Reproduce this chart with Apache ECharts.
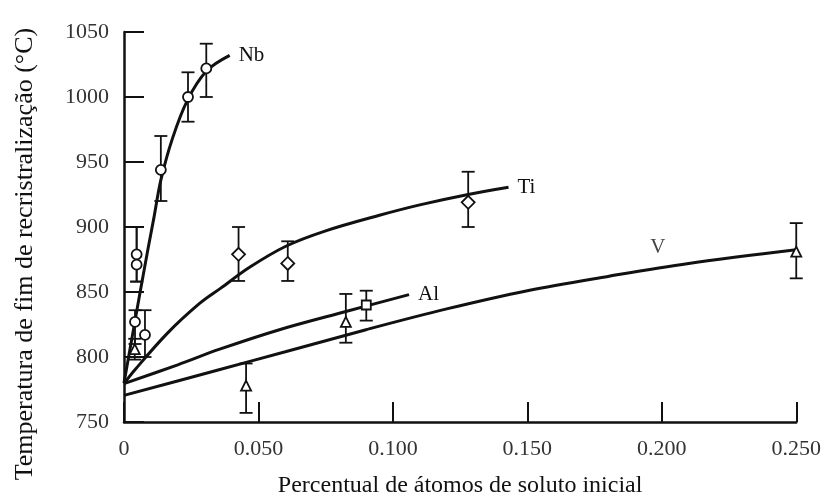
<!DOCTYPE html>
<html>
<head>
<meta charset="utf-8">
<title>Temperatura de fim de recristralização</title>
<script src="https://cdn.jsdelivr.net/npm/echarts@6/dist/echarts.min.js"></script>
<style>
  html, body { margin: 0; padding: 0; background: #fff; }
  #chart { width: 824px; height: 503px; }
</style>
</head>
<body>
<div id="chart"></div>
<script>
// Axis ticks
var xTickLabels = ['0', '0.050', '0.100', '0.150', '0.200', '0.250'];
var yTickLabels = ['750', '800', '850', '900', '950', '1000', '1050'];

// Fitted curves [percentual, temperatura]
var nbCurve = [[0, 780], [0.003, 815], [0.006, 850], [0.009, 884], [0.0112, 908], [0.0137, 936], [0.018, 968], [0.0237, 998], [0.0307, 1020], [0.0393, 1032]];
var tiCurve = [[0, 779.5], [0.004, 790], [0.016, 818], [0.028, 841], [0.036, 853], [0.0467, 869], [0.06, 885], [0.075, 897], [0.095, 909], [0.11, 917], [0.128, 925], [0.143, 930.5]];
var alCurve = [[0, 779.5], [0.02, 794], [0.0356, 806], [0.0578, 821], [0.0825, 835], [0.106, 848]];
var vCurve = [[0, 770.5], [0.035, 790], [0.06, 804], [0.09, 821], [0.12, 837], [0.15, 851], [0.18, 862], [0.21, 872], [0.25, 882.5]];

// Measured points [percentual, temperatura, mínimo, máximo]
var nbPoints = [[0.0047, 879, 858, 900], [0.0047, 871, 858, 900], [0.0041, 827, 810, 836], [0.0078, 817, 800, 836], [0.0137, 944, 920, 970], [0.0238, 1000, 981, 1019], [0.0306, 1022, 1000, 1041]];
var tiPoints = [[0.0426, 879, 858.5, 900], [0.0609, 872, 858.5, 889], [0.128, 919, 900, 942.5]];
var alPoints = [[0.0901, 840, 828, 851]];
var vPoints = [[0.004, 806, 798, 814], [0.0454, 778, 757, 795], [0.0825, 827, 811, 848.5], [0.25, 881, 860.5, 903]];

// Position of the "V" caption along its curve
var vLabelAt = [0.1985, 868.6];

var SERIF = '"Liberation Serif", "Times New Roman", serif';
var INK = '#111';

function errorBars(points) {
  return points.map(function (p) { return [p[0], p[2], p[3]]; });
}
function markers(points) {
  return points.map(function (p) { return [p[0], p[1]]; });
}

function renderErrorBar(params, api) {
  var x = api.value(0);
  var lo = api.coord([x, api.value(1)]);
  var hi = api.coord([x, api.value(2)]);
  var w = 6.5;
  var style = { stroke: INK, lineWidth: 1.8 };
  return {
    type: 'group',
    children: [
      { type: 'line', shape: { x1: lo[0], y1: lo[1], x2: hi[0], y2: hi[1] }, style: style },
      { type: 'line', shape: { x1: hi[0] - w, y1: hi[1], x2: hi[0] + w, y2: hi[1] }, style: style },
      { type: 'line', shape: { x1: lo[0] - w, y1: lo[1], x2: lo[0] + w, y2: lo[1] }, style: style }
    ]
  };
}

function curveSeries(name, data, endText) {
  var s = {
    name: name,
    type: 'line',
    data: data,
    smooth: 0.35,
    showSymbol: false,
    symbol: 'none',
    z: 3,
    lineStyle: { color: INK, width: 3 },
    silent: true
  };
  if (endText) {
    s.endLabel = {
      show: true,
      formatter: endText,
      distance: 9,
      color: INK,
      fontFamily: SERIF,
      fontSize: 21
    };
  }
  return s;
}

function barSeries(points) {
  return {
    type: 'custom',
    renderItem: renderErrorBar,
    data: errorBars(points),
    z: 2,
    silent: true,
    encode: { x: 0, y: [1, 2] }
  };
}

function markerSeries(points, symbol, size) {
  return {
    type: 'scatter',
    data: markers(points),
    symbol: symbol,
    symbolSize: size,
    z: 4,
    itemStyle: { color: '#fff', borderColor: INK, borderWidth: 1.8, opacity: 1 },
    silent: true
  };
}

var chart = echarts.init(document.getElementById('chart'), null, { renderer: 'canvas' });

chart.setOption({
  backgroundColor: '#fff',
  animation: false,
  grid: { left: 124, right: 25, top: 32, bottom: 72, containLabel: false },
  xAxis: {
    type: 'value',
    min: 0,
    max: 0.25,
    interval: 0.05,
    name: 'Percentual de átomos de soluto inicial',
    nameLocation: 'middle',
    nameGap: 52,
    nameTextStyle: { fontFamily: SERIF, fontSize: 24, color: INK },
    axisLine: { show: true, onZero: false, lineStyle: { color: INK, width: 2.5 } },
    axisTick: { show: true, inside: true, length: 20, lineStyle: { color: INK, width: 2 } },
    axisLabel: {
      margin: 16,
      fontFamily: SERIF,
      fontSize: 22,
      color: '#333',
      formatter: function (v, i) { return xTickLabels[i]; }
    },
    splitLine: { show: false }
  },
  yAxis: {
    type: 'value',
    min: 750,
    max: 1050,
    interval: 50,
    axisLine: { show: true, onZero: false, lineStyle: { color: INK, width: 2.5 } },
    axisTick: { show: true, inside: true, length: 20, lineStyle: { color: INK, width: 2 } },
    axisLabel: {
      margin: 15,
      fontFamily: SERIF,
      fontSize: 22,
      color: '#333',
      formatter: function (v, i) { return yTickLabels[i]; }
    },
    splitLine: { show: false }
  },
  graphic: [{
    type: 'text',
    x: 25,
    y: 254,
    rotation: Math.PI / 2,
    style: {
      text: 'Temperatura de fim de recristralização (°C)',
      font: '26px ' + SERIF,
      fill: INK,
      textAlign: 'center',
      textVerticalAlign: 'middle'
    }
  }],
  series: [
    barSeries(nbPoints),
    barSeries(tiPoints),
    barSeries(alPoints),
    barSeries(vPoints),
    curveSeries('Nb', nbCurve, 'Nb'),
    curveSeries('Ti', tiCurve, 'Ti'),
    curveSeries('Al', alCurve, 'Al'),
    curveSeries('V', vCurve, null),
    markerSeries(nbPoints, 'circle', 10),
    markerSeries(tiPoints, 'diamond', 13),
    markerSeries(alPoints, 'rect', 9),
    markerSeries(vPoints, 'triangle', 10),
    {
      type: 'scatter',
      data: [vLabelAt],
      symbolSize: 1,
      itemStyle: { color: 'transparent' },
      z: 5,
      silent: true,
      label: {
        show: true,
        position: 'top',
        distance: 9,
        formatter: 'V',
        color: INK,
        fontFamily: SERIF,
        fontSize: 21
      }
    }
  ]
});
</script>
</body>
</html>
